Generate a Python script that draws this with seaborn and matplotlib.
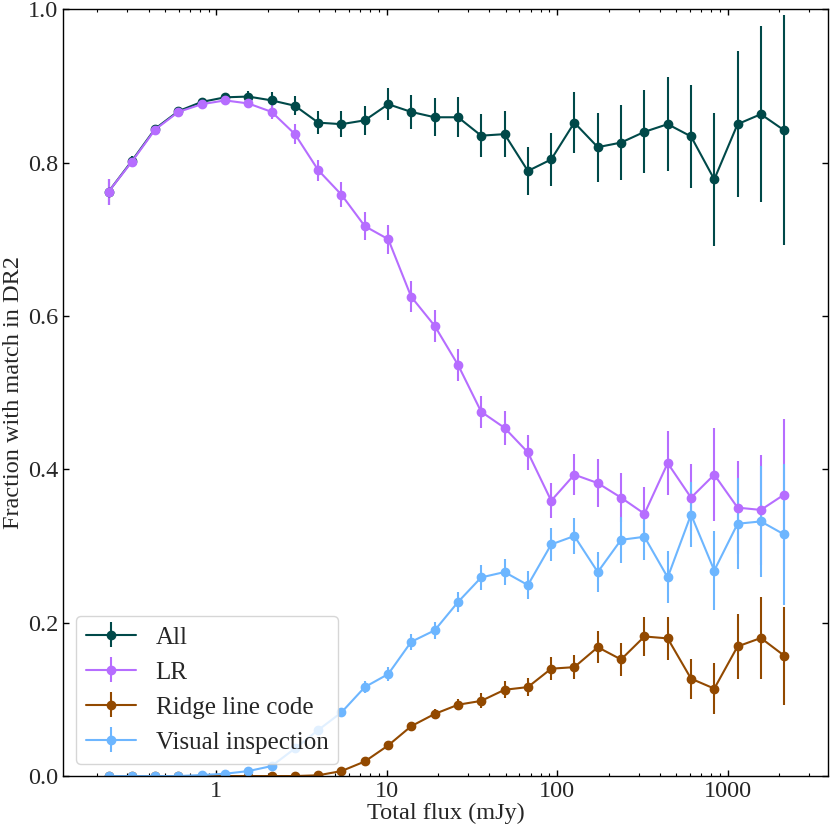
import numpy as np
import matplotlib
matplotlib.use("Agg")
import matplotlib.pyplot as plt
from matplotlib.ticker import FuncFormatter, LogLocator, NullFormatter
import seaborn as sns

# flux bin centres (mJy)
flux = [0.233, 0.319, 0.437, 0.599, 0.820, 1.124, 1.54, 2.11, 2.89, 3.96,
        5.42, 7.43, 10.2, 13.9, 19.1, 26.2, 35.8, 49.1, 67.3, 92.2,
        126, 173, 237, 325, 445, 610, 835, 1144, 1567, 2147]

# fraction with a match, per method
all_frac = [0.762, 0.802, 0.844, 0.867, 0.879, 0.885, 0.886, 0.881, 0.874, 0.852,
            0.850, 0.855, 0.876, 0.866, 0.859, 0.859, 0.835, 0.837, 0.789, 0.804,
            0.852, 0.820, 0.826, 0.840, 0.850, 0.834, 0.778, 0.850, 0.863, 0.842]
all_err = [0.017, 0.006, 0.004, 0.004, 0.004, 0.004, 0.0076, 0.011, 0.0126, 0.015,
           0.017, 0.019, 0.021, 0.022, 0.0245, 0.026, 0.028, 0.030, 0.031, 0.034,
           0.040, 0.045, 0.049, 0.054, 0.061, 0.067, 0.087, 0.095, 0.115, 0.150]

lr_frac = [0.762, 0.801, 0.843, 0.866, 0.876, 0.881, 0.877, 0.866, 0.837, 0.790,
           0.758, 0.717, 0.700, 0.625, 0.587, 0.536, 0.475, 0.454, 0.422, 0.359,
           0.393, 0.382, 0.363, 0.342, 0.408, 0.363, 0.393, 0.350, 0.347, 0.367]
lr_err = [0.017, 0.006, 0.005, 0.004, 0.004, 0.005, 0.006, 0.009, 0.0126, 0.0135,
          0.016, 0.018, 0.019, 0.020, 0.021, 0.021, 0.021, 0.022, 0.023, 0.023,
          0.027, 0.031, 0.032, 0.035, 0.042, 0.044, 0.061, 0.061, 0.072, 0.098]

ridge_frac = [0, 0, 0, 0, 0, 0, 0, 0, 0, 0.001,
              0.0065, 0.019, 0.040, 0.065, 0.081, 0.093, 0.098, 0.1125, 0.116, 0.140,
              0.142, 0.168, 0.152, 0.182, 0.1795, 0.127, 0.114, 0.169, 0.180, 0.157]
ridge_err = [0, 0, 0, 0, 0, 0, 0, 0, 0.0005, 0.001,
             0.002, 0.003, 0.004, 0.005, 0.006, 0.007, 0.0098, 0.011, 0.012, 0.015,
             0.016, 0.021, 0.021, 0.025, 0.028, 0.026, 0.033, 0.042, 0.053, 0.064]

vis_frac = [0, 0, 0, 0, 0.0013, 0.003, 0.0065, 0.013, 0.036, 0.060,
            0.083, 0.116, 0.133, 0.175, 0.190, 0.227, 0.259, 0.266, 0.249, 0.302,
            0.313, 0.266, 0.308, 0.312, 0.259, 0.341, 0.268, 0.329, 0.332, 0.315]
vis_err = [0, 0, 0, 0, 0.001, 0.001, 0.002, 0.003, 0.004, 0.005,
           0.006, 0.008, 0.009, 0.010, 0.0115, 0.013, 0.016, 0.017, 0.018, 0.021,
           0.024, 0.026, 0.030, 0.030, 0.034, 0.042, 0.051, 0.059, 0.072, 0.092]

labels = ['All', 'LR', 'Ridge line code', 'Visual inspection']
colours = ['#004949', '#b66dff', '#924900', '#6db6ff']

sns.set_theme(style='ticks')
plt.rcParams['font.family'] = ['Liberation Serif', 'DejaVu Serif']
plt.rcParams['mathtext.fontset'] = 'stix'

fig = plt.figure(figsize=(8.3, 8.3), dpi=100)
ax = fig.add_axes([0.076, 0.065, 0.922, 0.924])

series = [(all_frac, all_err), (lr_frac, lr_err), (ridge_frac, ridge_err), (vis_frac, vis_err)]
for (frac, err), lab, col in zip(series, labels, colours):
    ax.errorbar(flux, frac, yerr=err, fmt='o-', color=col, label=lab,
                markersize=6, linewidth=1.5, elinewidth=1.5, capsize=0)

ax.set_xscale('log')
ax.set_xlim(0.126, 3900)
ax.set_ylim(0, 1)
ax.set_yticks([0.0, 0.2, 0.4, 0.6, 0.8, 1.0])
ax.yaxis.set_major_formatter(FuncFormatter(lambda v, p: f'{v:.1f}'))
ax.xaxis.set_major_locator(LogLocator(base=10))
ax.xaxis.set_major_formatter(FuncFormatter(lambda v, p: f'{v:g}'))
ax.xaxis.set_minor_locator(LogLocator(base=10, subs=np.arange(2, 10)))
ax.xaxis.set_minor_formatter(NullFormatter())

ax.tick_params(which='both', direction='in', top=True, right=True,
               labelsize=17.5, color='black')
ax.tick_params(which='major', length=4.5, width=1)
ax.tick_params(which='minor', length=2.5, width=0.8)
for s in ax.spines.values():
    s.set_color('black')
    s.set_linewidth(1)

ax.set_xlabel('Total flux (mJy)', fontsize=17.5, labelpad=1)
ax.set_ylabel('Fraction with match in DR2', fontsize=17.5, labelpad=3)
ax.legend(loc='lower left', fontsize=18, handlelength=2, frameon=True)

fig.savefig('out.png', dpi=100)
